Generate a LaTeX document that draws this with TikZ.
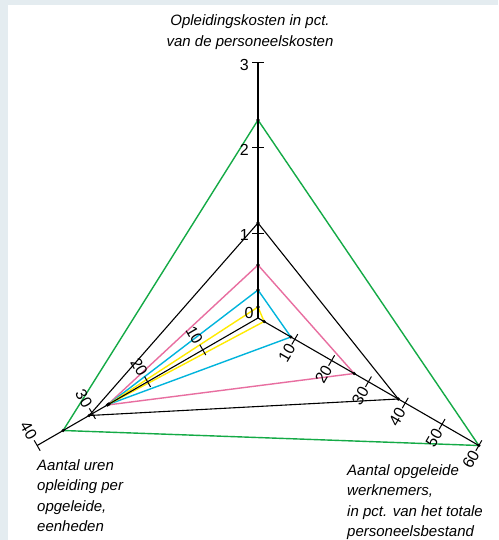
\documentclass[tikz,border=0pt]{standalone}
\usepackage{fontspec}
\setmainfont{Liberation Sans}
\definecolor{frameblue}{RGB}{228,236,240}
\definecolor{cgreen}{RGB}{20,170,70}
\definecolor{cpink}{RGB}{232,110,160}
\definecolor{ccyan}{RGB}{0,180,220}
\definecolor{cyellow}{RGB}{255,235,0}
\tikzset{
  axisline/.style={black,line width=1.1pt},
  tickline/.style={black,line width=1.0pt},
  poly/.style={line width=1.4pt,line join=miter},
  vdot/.style={fill=black,draw=none},
  numlab/.style={font=\fontsize{16}{16}\selectfont,inner sep=0pt},
  axtitle/.style={font=\fontsize{15}{20.5}\selectfont\itshape,inner sep=0pt,align=left}
}
\begin{document}
\begin{tikzpicture}[x=1pt,y=1pt]
\useasboundingbox (0,0) rectangle (498,-540);
\fill[white] (0,0) rectangle (498,-540);
\fill[frameblue] (0,0) rectangle (498,-5);
\fill[frameblue] (0,0) rectangle (8,-540);
\begin{scope}[shift={(258,-318)}]
\coordinate (O) at (0,0);
\coordinate (AT) at (90:255);
\coordinate (AR) at (-30:255);
\coordinate (AL) at (210:255);
% polygons
\coordinate (gT) at (90:198);  \coordinate (gR) at (-30:255); \coordinate (gL) at (210:225);
\coordinate (bT) at (90:95);   \coordinate (bR) at (-30:162); \coordinate (bL) at (210:195);
\coordinate (pT) at (90:53);   \coordinate (pR) at (-30:111); \coordinate (pL) at (210:174);
\coordinate (cT) at (90:28);   \coordinate (cR) at (-30:38);  \coordinate (cL) at (210:173);
\coordinate (yT) at (90:11);   \coordinate (yR) at (-30:7);   \coordinate (yL) at (210:172);
\draw[poly,cgreen] (gT) -- (gR) -- (gL) -- cycle;
\draw[poly,cpink] (pT) -- (pR) -- (pL) -- cycle;
\draw[poly,ccyan] (cT) -- (cR) -- (cL) -- cycle;
\draw[poly,cyellow] (yT) -- (yR) -- (yL) -- cycle;
\draw[line width=1.1pt,black] (bT) -- (bR) -- (bL) -- cycle;
% axes
\draw[axisline] (O) -- (AT);
\draw[axisline] (O) -- (AR);
\draw[axisline] (O) -- (AL);
% vertical ticks
\foreach \v/\r in {1/85,2/170,3/255}{
  \draw[tickline] (-6,\r) -- (6,\r);
  \node[numlab,anchor=east] (vl\v) at (-9,\r-2) {\v};
}
\node[numlab] (v0) at (-9,5) {0};
% right axis
\begin{scope}[rotate=-30]
\foreach \v/\r in {10/42.5,20/85,30/127.5,40/170,50/212.5,60/255}{
  \draw[tickline] (\r,-6) -- (\r,6);
  \node[numlab,rotate=60] (rl\v) at (\r,-16) {\v};
}
\end{scope}
% left axis
\begin{scope}[rotate=210]
\foreach \v/\r in {10/63.75,20/127.5,30/191.25,40/255}{
  \draw[tickline] (\r,-6) -- (\r,6);
  \node[numlab,rotate=-60] (ll\v) at (\r,-17) {\v};
}
\end{scope}
% dots
\foreach \p in {gT,gR,gL,bT,bR,bL,pT,pR,pL,cT,cR,cL,yT,yR,yL}{
  \fill[vdot] (\p) circle (1.8);
}
\end{scope}
% titles
\node[axtitle,align=center,anchor=north,font=\fontsize{15}{21.5}\selectfont\itshape] (tT) at (250,-14) {Opleidingskosten in pct.\\van de personeelskosten};
\node[axtitle,anchor=north west] (tL) at (37,-459) {Aantal uren\\opleiding per\\opgeleide,\\eenheden};
\node[axtitle,anchor=north west] (tR) at (347,-464) {Aantal opgeleide\\werknemers,\\in pct. van het totale\\personeelsbestand};
\end{tikzpicture}
\end{document}
